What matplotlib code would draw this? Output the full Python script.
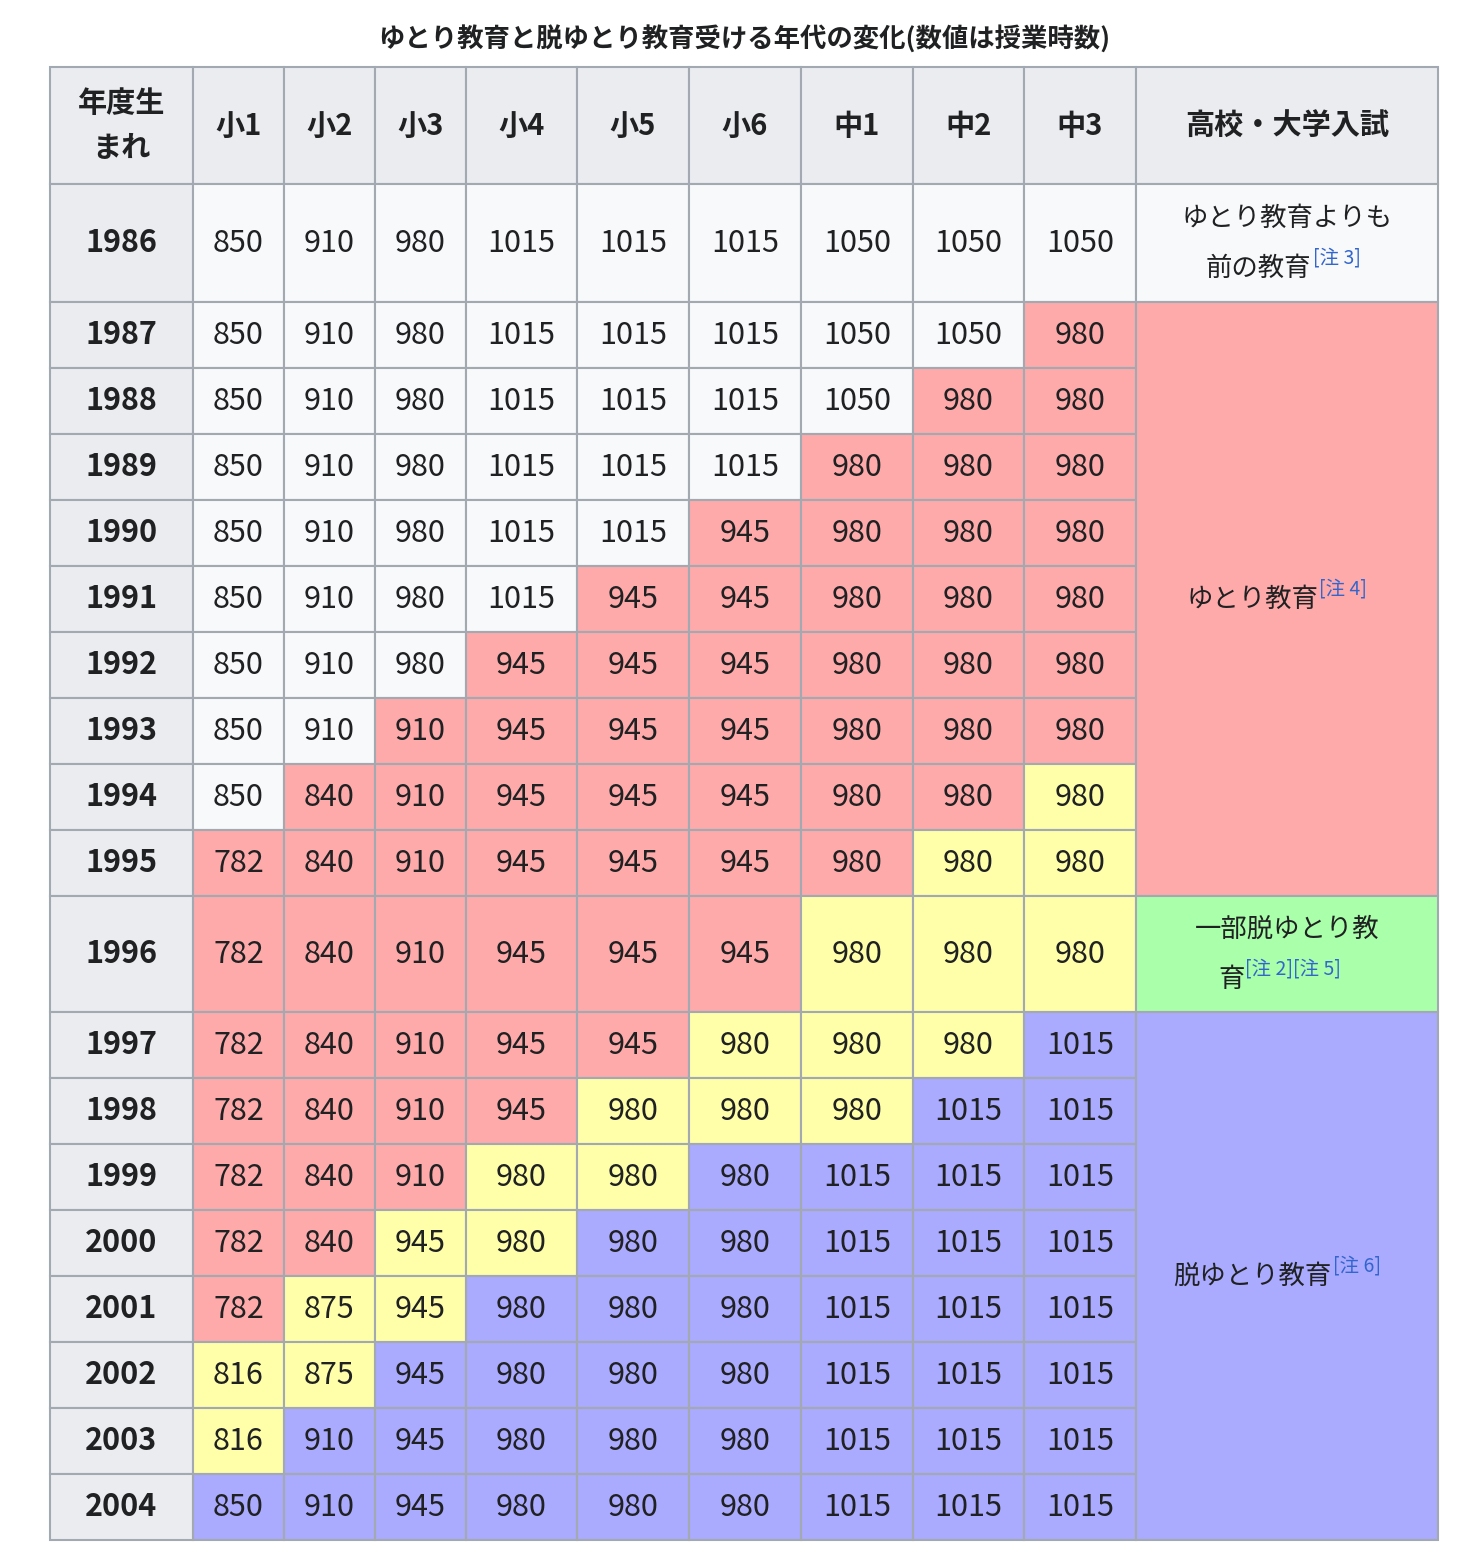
import matplotlib.pyplot as plt
from matplotlib.patches import Rectangle

plt.rcParams['font.family'] = ['Noto Sans CJK JP', 'DejaVu Sans']

title = 'ゆとり教育と脱ゆとり教育受ける年代の変化(数値は授業時数)'
columns = ['小1', '小2', '小3', '小4', '小5', '小6', '中1', '中2', '中3']
years = list(range(1986, 2005))
hours = [
    [850, 910, 980, 1015, 1015, 1015, 1050, 1050, 1050],
    [850, 910, 980, 1015, 1015, 1015, 1050, 1050, 980],
    [850, 910, 980, 1015, 1015, 1015, 1050, 980, 980],
    [850, 910, 980, 1015, 1015, 1015, 980, 980, 980],
    [850, 910, 980, 1015, 1015, 945, 980, 980, 980],
    [850, 910, 980, 1015, 945, 945, 980, 980, 980],
    [850, 910, 980, 945, 945, 945, 980, 980, 980],
    [850, 910, 910, 945, 945, 945, 980, 980, 980],
    [850, 840, 910, 945, 945, 945, 980, 980, 980],
    [782, 840, 910, 945, 945, 945, 980, 980, 980],
    [782, 840, 910, 945, 945, 945, 980, 980, 980],
    [782, 840, 910, 945, 945, 980, 980, 980, 1015],
    [782, 840, 910, 945, 980, 980, 980, 1015, 1015],
    [782, 840, 910, 980, 980, 980, 1015, 1015, 1015],
    [782, 840, 945, 980, 980, 980, 1015, 1015, 1015],
    [782, 875, 945, 980, 980, 980, 1015, 1015, 1015],
    [816, 875, 945, 980, 980, 980, 1015, 1015, 1015],
    [816, 910, 945, 980, 980, 980, 1015, 1015, 1015],
    [850, 910, 945, 980, 980, 980, 1015, 1015, 1015],
]
# era of each cell: W=before, R=yutori, Y=partial, B=datsu-yutori
eras = [
    'WWWWWWWWW', 'WWWWWWWWR', 'WWWWWWWRR', 'WWWWWWRRR', 'WWWWWRRRR',
    'WWWWRRRRR', 'WWWRRRRRR', 'WWRRRRRRR', 'WRRRRRRRY', 'RRRRRRRYY',
    'RRRRRRYYY', 'RRRRRYYYB', 'RRRRYYYBB', 'RRRYYBBBB', 'RRYYBBBBB',
    'RYYBBBBBB', 'YYBBBBBBB', 'YBBBBBBBB', 'BBBBBBBBB',
]
# right column merged groups: (first year, last year, era, text, note)
groups = [
    (1986, 1986, 'W', 'ゆとり教育よりも\n前の教育', '[注 3]'),
    (1987, 1995, 'R', 'ゆとり教育', '[注 4]'),
    (1996, 1996, 'G', '一部脱ゆとり教\n育', '[注 2][注 5]'),
    (1997, 2004, 'B', '脱ゆとり教育', '[注 6]'),
]
colors = {'W': '#f8f9fa', 'R': '#ffaaaa', 'Y': '#ffffaa', 'G': '#aaffaa',
          'B': '#aaaaff', 'H': '#eaecf0'}

col_edges = [50, 193, 284, 375, 466, 577, 689, 801, 913, 1024, 1136, 1438]
row_heights = [117, 118] + [66] * 9 + [116] + [66] * 8
row_edges = [67]
for h in row_heights:
    row_edges.append(row_edges[-1] + h)

fig = plt.figure(figsize=(14.74, 15.56), dpi=100)
ax = fig.add_axes([0, 0, 1, 1])
ax.set_xlim(0, 1474)
ax.set_ylim(1556, 0)
ax.axis('off')
edge = '#a2a9b1'

def cell(x0, x1, y0, y1, color):
    ax.add_patch(Rectangle((x0, y0), x1 - x0, y1 - y0, facecolor=color,
                           edgecolor=edge, linewidth=1.5))

ax.text(744, 40, title, ha='center', va='center', fontsize=19, fontweight='bold', color='#202122')

# header
y0, y1 = row_edges[0], row_edges[1]
cell(col_edges[0], col_edges[1], y0, y1, colors['H'])
ax.text((col_edges[0] + col_edges[1]) / 2, (y0 + y1) / 2, '年度生\nまれ', ha='center', va='center',
        fontsize=21, fontweight='bold', linespacing=1.6, color='#202122')
for j, c in enumerate(columns):
    cell(col_edges[j + 1], col_edges[j + 2], y0, y1, colors['H'])
    ax.text((col_edges[j + 1] + col_edges[j + 2]) / 2, (y0 + y1) / 2, c, ha='center', va='center',
            fontsize=21, fontweight='bold', color='#202122')
cell(col_edges[10], col_edges[11], y0, y1, colors['H'])
ax.text((col_edges[10] + col_edges[11]) / 2, (y0 + y1) / 2, '高校・大学入試', ha='center', va='center',
        fontsize=21, fontweight='bold', color='#202122')

# body
for i, yr in enumerate(years):
    y0, y1 = row_edges[i + 1], row_edges[i + 2]
    cell(col_edges[0], col_edges[1], y0, y1, colors['H'])
    ax.text((col_edges[0] + col_edges[1]) / 2, (y0 + y1) / 2, str(yr), ha='center', va='center',
            fontsize=22, fontweight='bold', color='#202122')
    for j, v in enumerate(hours[i]):
        cell(col_edges[j + 1], col_edges[j + 2], y0, y1, colors[eras[i][j]])
        ax.text((col_edges[j + 1] + col_edges[j + 2]) / 2, (y0 + y1) / 2, str(v), ha='center',
                va='center', fontsize=22, color='#202122')

for first, last, era, label, note in groups:
    y0 = row_edges[years.index(first) + 1]
    y1 = row_edges[years.index(last) + 2]
    cell(col_edges[10], col_edges[11], y0, y1, colors[era])
    xc = (col_edges[10] + col_edges[11]) / 2
    lines = label.split('\n')
    if len(lines) == 1:
        t = ax.text(xc - 35, (y0 + y1) / 2, label, ha='center', va='center', fontsize=19, color='#202122')
        ax.text(xc - 35 + len(label) * 13.5, (y0 + y1) / 2 - 10, note, ha='left', va='center',
                fontsize=14, color='#3366cc')
    else:
        ym = (y0 + y1) / 2
        ax.text(xc, ym - 25, lines[0], ha='center', va='center', fontsize=19, color='#202122')
        w = len(lines[1]) * 27 + len(note) * 11
        x_start = xc - w / 2
        ax.text(x_start, ym + 25, lines[1], ha='left', va='center', fontsize=19, color='#202122')
        ax.text(x_start + len(lines[1]) * 27, ym + 15, note, ha='left', va='center',
                fontsize=14, color='#3366cc')

fig.savefig('out.png', dpi=100)
